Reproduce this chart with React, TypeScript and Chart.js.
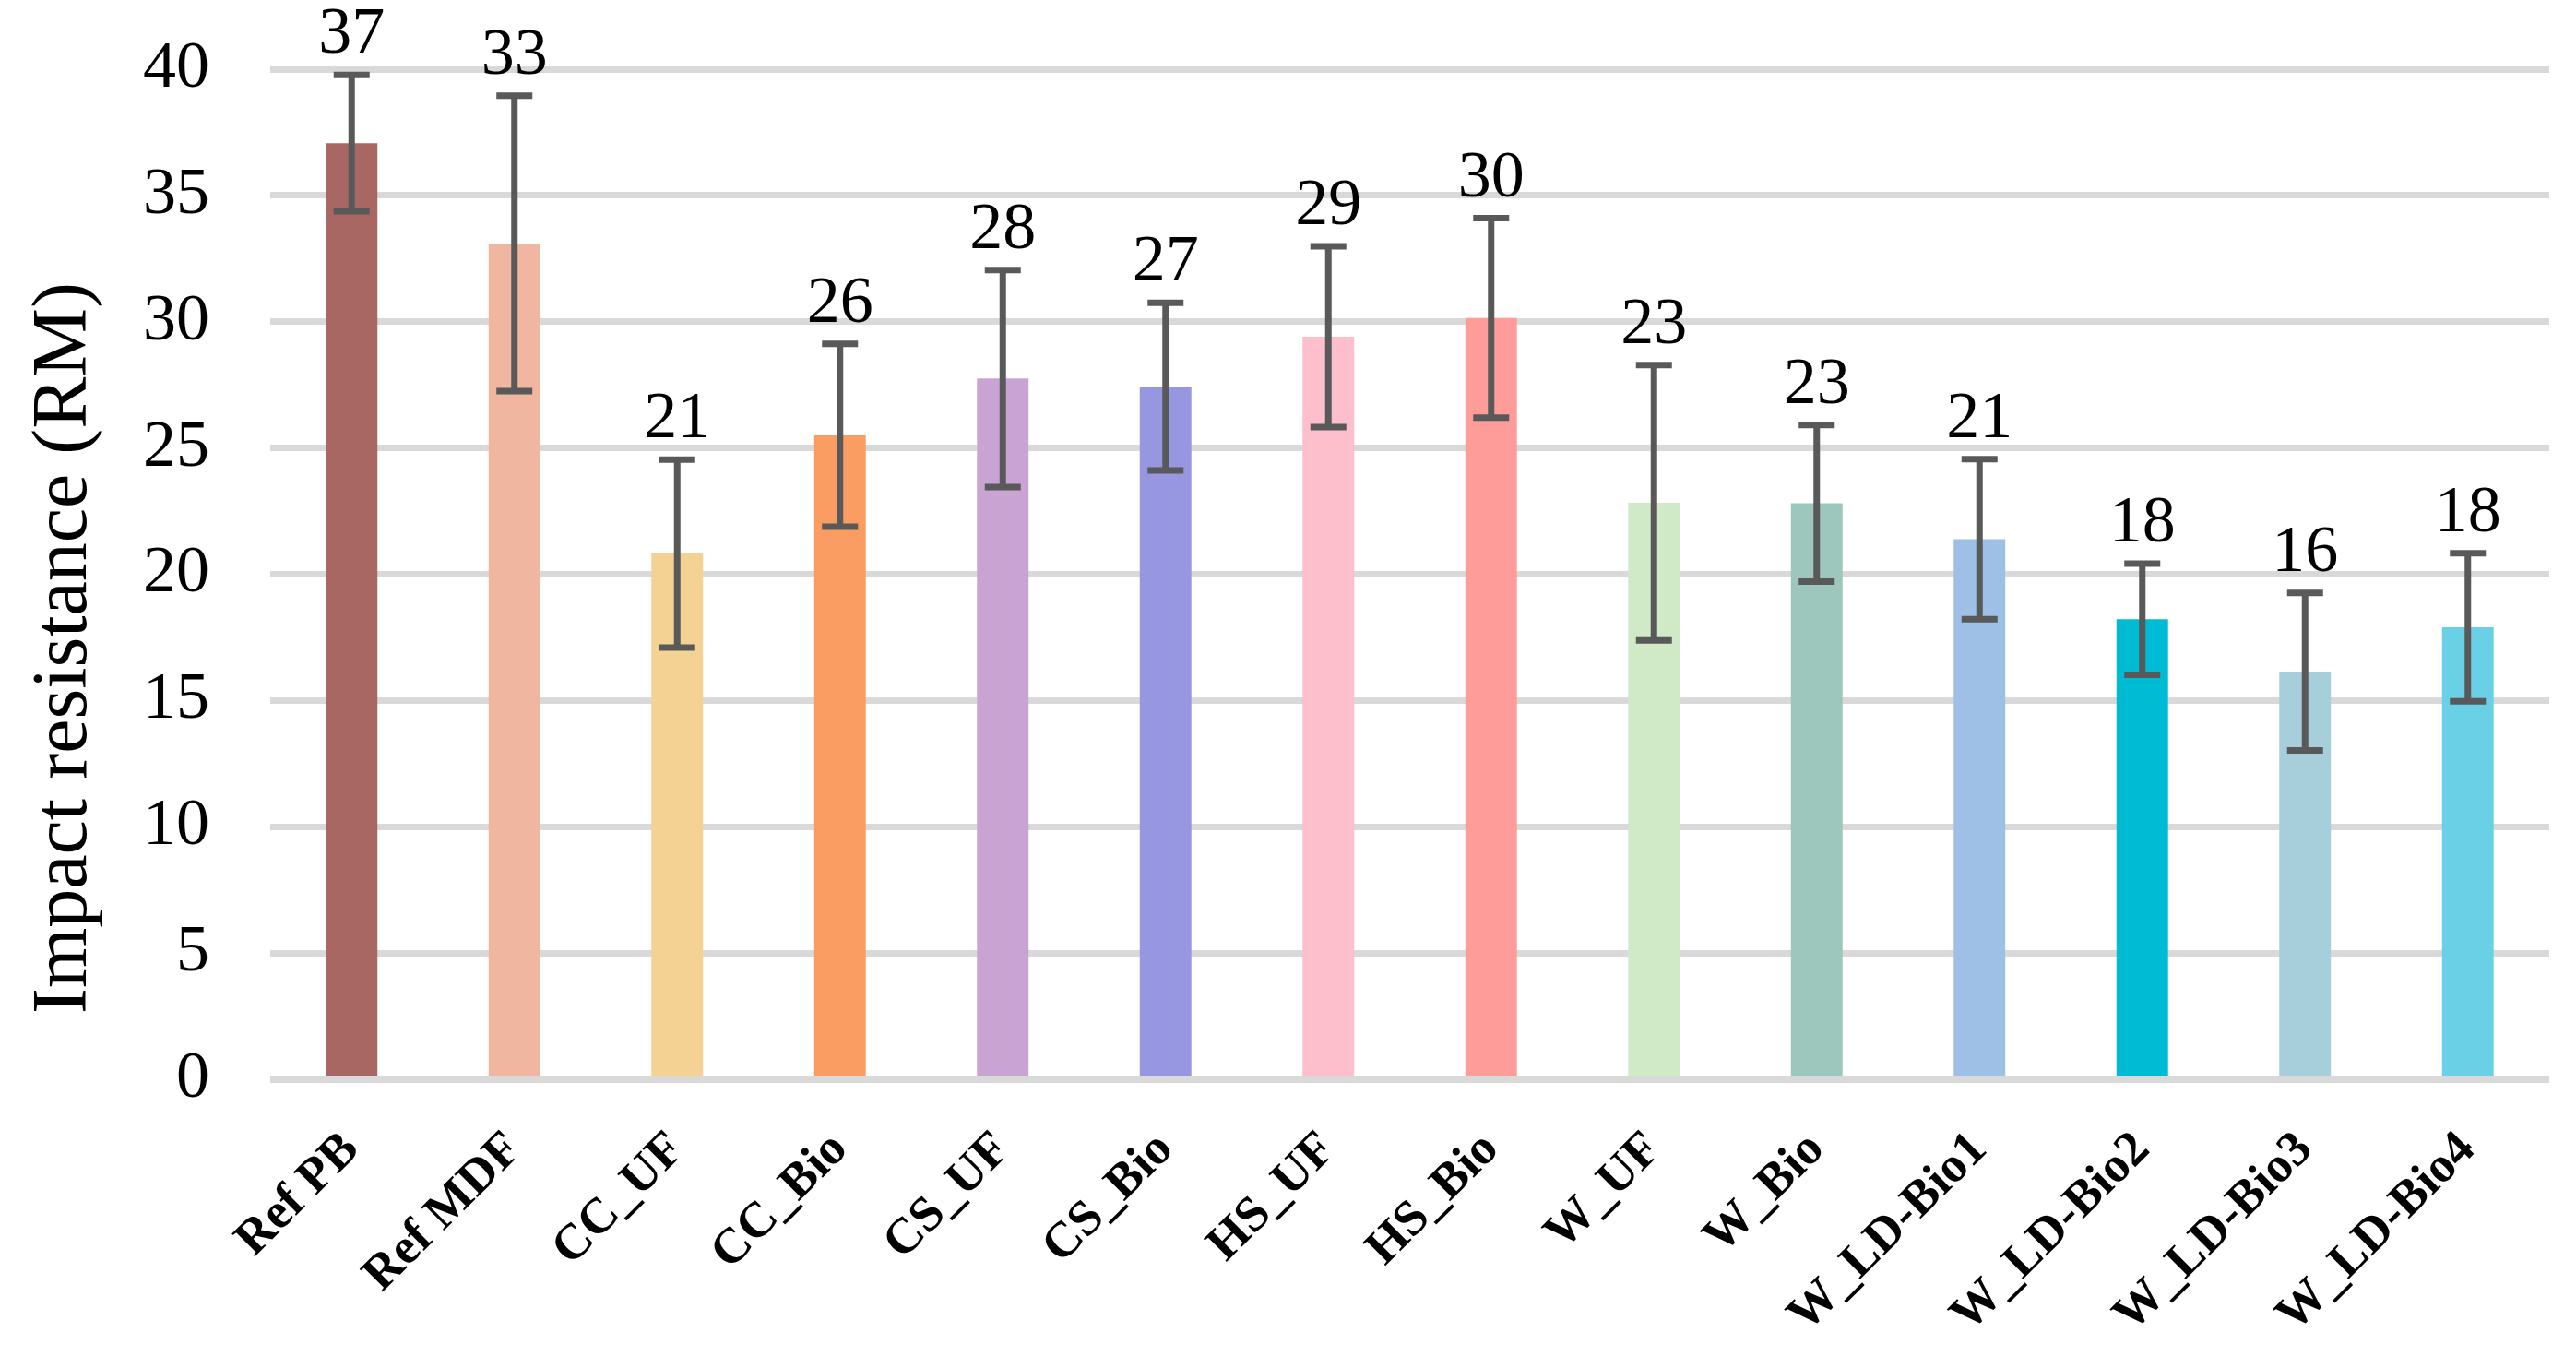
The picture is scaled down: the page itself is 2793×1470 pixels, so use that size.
import React, { useEffect, useRef } from "react";
import { Chart, registerables } from "chart.js";

Chart.register(...registerables);

const categories = [
  "Ref PB",
  "Ref MDF",
  "CC_UF",
  "CC_Bio",
  "CS_UF",
  "CS_Bio",
  "HS_UF",
  "HS_Bio",
  "W_UF",
  "W_Bio",
  "W_LD-Bio1",
  "W_LD-Bio2",
  "W_LD-Bio3",
  "W_LD-Bio4",
];

const values = [
  37.07, 33.1, 20.82, 25.5, 27.75, 27.43, 29.41, 30.15, 22.83, 22.81, 21.39,
  18.22, 16.14, 17.9,
];

const errors = [
  2.7, 5.85, 3.72, 3.62, 4.3, 3.32, 3.58, 3.95, 5.45, 3.1, 3.17, 2.2, 3.12,
  2.93,
];

const barColors = [
  "#A86762",
  "#F0B6A0",
  "#F3D294",
  "#FA9D63",
  "#C9A4D3",
  "#9697E0",
  "#FDBFCB",
  "#FD9C98",
  "#D0EAC8",
  "#9DC7BC",
  "#9FC0E6",
  "#00BBD4",
  "#A6CEDB",
  "#6AD0E5",
];

const yTicks = [0, 5, 10, 15, 20, 25, 30, 35, 40];

const yTitle = "Impact resistance (RM)";

const SERIF = "'Liberation Serif', 'Times New Roman', serif";

// error bars + value labels drawn over the bars
const errorBarPlugin = {
  id: "errorBars",
  afterDatasetsDraw(chart: any) {
    const ctx = chart.ctx;
    const yScale = chart.scales.y;
    const meta = chart.getDatasetMeta(0);
    ctx.save();
    meta.data.forEach((bar: any, i: number) => {
      const x = bar.x;
      const top = yScale.getPixelForValue(values[i] + errors[i]);
      const bottom = yScale.getPixelForValue(values[i] - errors[i]);
      const half = 19.5;
      ctx.strokeStyle = "#595959";
      ctx.lineWidth = 7;
      ctx.lineCap = "butt";
      ctx.beginPath();
      ctx.moveTo(x, top);
      ctx.lineTo(x, bottom);
      ctx.moveTo(x - half, top);
      ctx.lineTo(x + half, top);
      ctx.moveTo(x - half, bottom);
      ctx.lineTo(x + half, bottom);
      ctx.stroke();

      ctx.fillStyle = "#000";
      ctx.font = `72px ${SERIF}`;
      ctx.textAlign = "center";
      ctx.textBaseline = "alphabetic";
      ctx.fillText(String(Math.round(values[i])), x, top - 24);
    });
    ctx.restore();
  },
};

// axis title sits a bit below the middle of the axis, as in the source
const yTitlePlugin = {
  id: "yTitle",
  afterDraw(chart: any) {
    const { ctx, chartArea } = chart;
    const cy = (chartArea.top + chartArea.bottom) / 2 + 80;
    ctx.save();
    ctx.translate(71, cy);
    ctx.rotate(-Math.PI / 2);
    ctx.fillStyle = "#000";
    ctx.font = `84px ${SERIF}`;
    ctx.textAlign = "center";
    ctx.textBaseline = "middle";
    ctx.fillText(yTitle, 0, 0);
    ctx.restore();
  },
};

const App: React.FC = () => {
  const chartRef = useRef<HTMLCanvasElement | null>(null);
  const chartInstance = useRef<Chart | null>(null);

  useEffect(() => {
    if (!chartRef.current) return;
    if (chartInstance.current) chartInstance.current.destroy();

    chartInstance.current = new Chart(chartRef.current, {
      type: "bar",
      data: {
        labels: categories,
        datasets: [
          {
            data: values,
            backgroundColor: barColors,
            borderWidth: 0,
            barPercentage: 0.317,
            categoryPercentage: 1,
          },
        ],
      },
      options: {
        animation: false,
        responsive: true,
        maintainAspectRatio: false,
        layout: {
          padding: { top: 75, right: 29, bottom: 0, left: 0 },
        },
        plugins: {
          legend: { display: false },
          tooltip: { enabled: false },
        },
        scales: {
          x: {
            grid: { display: false, drawTicks: false },
            border: { display: false },
            ticks: {
              autoSkip: false,
              minRotation: 45,
              maxRotation: 45,
              padding: 45,
              color: "#000",
              font: { family: SERIF, size: 54, weight: "bold" },
            },
            afterFit: (scale: any) => {
              scale.height = 300;
            },
          },
          y: {
            min: 0,
            max: 40,
            afterBuildTicks: (scale: any) => {
              scale.ticks = yTicks.map((v) => ({ value: v }));
            },
            grid: { color: "#D9D9D9", lineWidth: 7, drawTicks: false },
            border: { display: false },
            ticks: {
              padding: 66,
              color: "#000",
              font: { family: SERIF, size: 72 },
            },
            afterFit: (scale: any) => {
              scale.width = 293;
              // tick padding would otherwise push the plot top down
              scale.paddingTop = 0;
              scale.paddingBottom = 0;
            },
          },
        },
      },
      plugins: [errorBarPlugin, yTitlePlugin],
    });

    return () => {
      if (chartInstance.current) {
        chartInstance.current.destroy();
        chartInstance.current = null;
      }
    };
  }, []);

  return (
    <div
      style={{
        position: "fixed",
        left: 0,
        top: 0,
        width: "2793px",
        height: "1470px",
        background: "#fff",
      }}
    >
      <canvas ref={chartRef} />
    </div>
  );
};

export default App;
